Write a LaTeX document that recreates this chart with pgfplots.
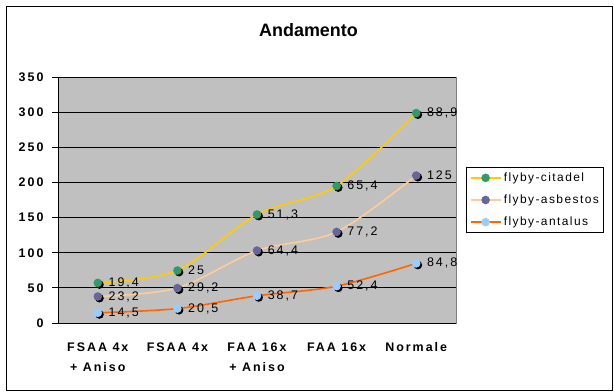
\documentclass[border=0pt]{standalone}
\usepackage{fontspec}
\setmainfont{Liberation Sans}
\newfontfamily\xl[LetterSpace=16]{Liberation Sans}
\newfontfamily\xlg[LetterSpace=12]{Liberation Sans}
\usepackage{pgfplots}
\pgfplotsset{compat=1.18}
\usepackage{pgfplotstable}

\definecolor{plotbg}{HTML}{C0C0C0}
\definecolor{cit}{HTML}{FFCC00}
\definecolor{asb}{HTML}{FFCC99}
\definecolor{ant}{HTML}{FF6600}
\definecolor{citm}{HTML}{339966}
\definecolor{asbm}{HTML}{666699}
\definecolor{antm}{HTML}{99CCFF}

\pgfdeclareplotmark{shcirc}{%
  \begin{pgfscope}\pgfsetfillcolor{black}%
  \pgfpathcircle{\pgfqpoint{1.7pt}{-1.7pt}}{\pgfplotmarksize}\pgfusepathqfill\end{pgfscope}%
  \pgfpathcircle{\pgfpointorigin}{\pgfplotmarksize}\pgfusepathqfill}
\pgfdeclareplotmark{flatcirc}{%
  \pgfpathcircle{\pgfpointorigin}{\pgfplotmarksize}\pgfusepathqfill}

% bottom of the stack
\pgfplotstableread{
x y lab
1 14.5 14,5
2 20.5 20,5
3 38.7 38,7
4 52.4 52,4
5 84.8 84,8
}\antalus
\pgfplotstableread{
x y lab
1 23.2 23,2
2 29.2 29,2
3 64.4 64,4
4 77.2 77,2
5 125 125
}\asbestos
\pgfplotstableread{
x y lab
1 19.4 19,4
2 25 25
3 51.3 51,3
4 65.4 65,4
5 88.9 88,9
}\citadel

\begin{document}
\begin{tikzpicture}
\useasboundingbox (0bp,0bp) rectangle (614bp,-392bp);
\draw[black, line width=1bp] (6bp,-6bp) rectangle (612.5bp,-390.5bp);
\node[font=\bfseries\fontsize{18}{20}\selectfont, anchor=base] at (308.5bp,-36bp) {Andamento};
\begin{axis}[
  at={(58bp,-323bp)}, anchor=south west,
  scale only axis, width=398bp, height=246bp,
  xmin=0.5, xmax=5.5, ymin=0, ymax=350,
  stack plots=y,
  axis background/.style={fill=plotbg, draw=gray},
  axis x line*=bottom, axis y line*=left,
  axis line style={-, black, line width=0.8bp},
  ytick={0,50,...,350},
  ymajorgrids, grid style={black, line width=0.8bp},
  tick align=outside, major tick length=6bp, minor tick length=6bp,
  ytick style={black, line width=0.8bp},
  xtick={1,...,5},
  xtick style={draw=none},
  minor xtick={0.5,1.5,...,5.5},
  minor x tick style={black, line width=0.8bp},
  xticklabels={{FSAA 4x\\+ Aniso},{FSAA 4x},{FAA 16x\\+ Aniso},{FAA 16x},{Normale}},
  xticklabel style={align=center, font=\xl\bfseries\fontsize{12.5}{20.5}\selectfont, yshift=-10bp},
  /pgf/number format/assume math mode=true,
  yticklabel style={font=\xl\bfseries\fontsize{12.5}{14}\selectfont, xshift=-5bp},
  point meta=explicit symbolic,
  nodes near coords={\pgfplotspointmeta},
  nodes near coords style={font=\xl\fontsize{12.5}{14}\selectfont, anchor=west, xshift=9bp, inner sep=1bp, text=black},
  every axis plot/.append style={line width=1.6bp, smooth, mark=shcirc, mark size=4.3bp},
  legend image post style={mark=flatcirc},
  legend image code/.code={\draw[mark repeat=2, mark phase=2, #1, line width=2.4bp] plot coordinates {(0bp,0bp) (15bp,0bp) (30bp,0bp)};},
  reverse legend,
  legend cell align=left,
  legend style={at={(1,0.5)}, anchor=west, xshift=10bp, draw=black, fill=white, line width=0.8bp,
    font=\xlg\fontsize{12}{14}\selectfont, row sep=8bp, inner sep=3bp,
    nodes={inner sep=2bp}},
]
\addplot[ant, mark options={draw=none, fill=antm}] table[x=x, y=y, meta=lab]{\antalus};
\addlegendentry{flyby-antalus}
\addplot[asb, mark options={draw=none, fill=asbm}] table[x=x, y=y, meta=lab]{\asbestos};
\addlegendentry{flyby-asbestos}
\addplot[cit, mark options={draw=none, fill=citm}] table[x=x, y=y, meta=lab]{\citadel};
\addlegendentry{flyby-citadel}
\end{axis}
\end{tikzpicture}
\end{document}
